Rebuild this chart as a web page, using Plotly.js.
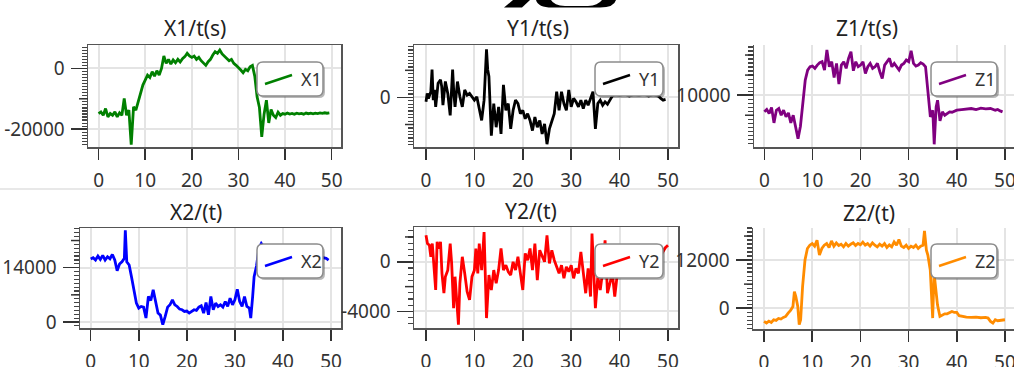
<!DOCTYPE html>
<html><head><meta charset="utf-8">
<script src="https://cdn.plot.ly/plotly-3.0.1.min.js"></script>
<style>html,body{margin:0;padding:0;background:#fff}#chart{width:1014px;height:367px}</style>
</head><body><div id="chart"></div>
<script>
// ---------------- data ----------------
const xTicks = [0, 10, 20, 30, 40, 50];

const tX1 = [0,0.5,1,1.5,2,2.5,3,3.5,4,4.5,5,5.5,6,6.5,7,7.5,8,8.5,9,9.5,10,10.5,11,11.5,12,12.5,13,13.5,14,14.5,15,15.5,16,16.5,17,17.5,18,18.5,19,19.5,20,20.5,21,21.5,22,22.5,23,23.5,24,24.5,25,25.5,26,26.5,27,27.5,28,28.5,29,29.5,30,30.5,31,31.5,32,32.5,33,33.5,34,34.5,35,35.5,36,36.5,37,37.5,38,38.5,39,39.5,40,40.5,41,41.5,42,42.5,43,43.5,44,44.5,45,45.5,46,46.5,47,47.5,48,48.5,49,49.5];
const X1 = [-14850,-14300,-15400,-13200,-15950,-14850,-15400,-14300,-15950,-14600,-15400,-9900,-15400,-13750,-25100,-12650,-13750,-11000,-7700,-5500,-3850,-2200,-2970,-1100,-2530,-770,-2200,0,4070,1650,2970,1430,2750,1870,2970,2090,3190,3850,4950,4070,3630,4070,2970,3630,2530,1870,990,2200,2970,4400,5500,4950,6050,4730,4070,3300,2530,2970,1650,990,330,-550,-1430,-330,-770,550,990,-2530,-9350,-12870,-22550,-15070,-10450,-17930,-13530,-15400,-16170,-14410,-15400,-14850,-15070,-14700,-15000,-14800,-15100,-14750,-14950,-14800,-15050,-14700,-14900,-14750,-14950,-14700,-14850,-14650,-14800,-14600,-14750,-14630];

const tY1 = [0,0.25,0.5,0.75,1,1.25,1.5,1.75,2,2.5,3,3.25,3.5,4,4.5,5,5.5,5.75,6,6.5,7,7.5,8,8.5,9,9.5,10,10.5,11,11.5,12,12.5,12.75,13,13.5,14,14.5,15,15.5,16,16.5,17,17.5,18,18.5,19,19.5,20,20.5,21,21.5,22,22.5,23,23.5,24,24.5,25,25.5,26,26.5,27,27.5,28,28.5,29,29.5,30,30.5,31,31.5,32,32.5,33,33.5,34,34.5,35,35.5,36,36.5,37,37.5,38,38.5,39,40,41,42,43,44,45,46,47,48,48.5,49,49.5];
const Y1 = [-325,300,-75,175,425,2050,-200,550,-700,1050,1300,800,-575,1175,300,-1325,2050,300,-700,1175,50,-700,550,175,300,50,-200,50,-950,-1700,-200,3550,2050,1550,-2825,-450,-2200,-700,-2700,925,-950,-450,-2325,-950,-200,-450,-1200,-950,-1575,-1200,-1700,-2450,-1450,-2200,-1700,-2700,-1950,-3450,-2325,-1700,-1200,425,-950,425,-450,-950,550,-700,-75,-325,-700,-200,-825,-200,-575,-75,425,-2325,-450,-200,-575,-325,-500,-200,100,200,150,250,100,200,150,250,100,200,100,-75,-200,-150];

const tZ1 = [0,0.5,1,1.5,2,2.5,3,3.5,4,4.5,5,5.5,6,6.5,7,7.5,8,8.5,9,9.5,10,10.5,11,11.5,12,12.5,13,13.5,14,14.5,15,15.5,16,16.5,17,17.5,18,18.5,19,19.5,20,20.5,21,21.5,22,22.5,23,23.5,24,24.5,25,25.5,26,26.5,27,27.5,28,28.5,29,29.5,30,30.5,31,31.5,32,32.5,33,33.5,34,34.5,35,35.3,35.7,36,36.5,37,37.5,38,38.5,39,40,41,42,43,44,45,46,47,48,48.5,49,49.5];
const Z1 = [5835,6420,5420,6920,3090,6250,6670,5000,6250,4590,5580,3090,5000,2090,-830,2250,8750,13750,16250,17080,17250,16670,17500,18080,18330,16250,21250,17080,18330,14420,17920,12750,17500,18330,16670,19170,20830,16080,18330,17080,17500,18330,15420,17080,17920,16670,17080,17920,15830,14170,17500,18330,19170,17080,17920,17080,16250,17500,17920,18750,18330,21080,17920,17250,17500,18080,17750,17080,11250,4580,6250,-2250,7080,8750,3580,5830,5000,5420,5830,5750,6250,6420,6580,6670,6420,6750,6580,6670,6250,6420,6080,5830];

const tX2 = [0,0.5,1,1.5,2,2.5,3,3.5,4,4.5,5,5.5,6,6.5,7,7.2,7.5,8,8.5,9,9.5,10,10.5,11,11.5,12,12.5,13,13.5,14,14.5,15,15.5,16,16.5,17,17.5,18,18.5,19,19.5,20,20.5,21,21.5,22,22.5,23,23.5,24,24.5,25,25.5,26,26.5,27,27.5,28,28.5,29,29.5,30,30.5,31,31.5,32,32.5,33,33.3,33.7,34,34.5,35,35.5,36,37,38,39,40,41,42,43,44,45,46,47,48,48.5,49,49.5];
const X2 = [16230,16570,15970,16990,16140,17170,15970,16820,16310,17420,15970,13240,14950,15540,16400,23660,15540,14690,11530,8280,4870,3590,4010,3840,1020,6580,5550,8280,4870,2300,1790,-680,1450,3840,4440,5720,4440,4010,3330,3160,2730,2820,2300,2650,3160,2990,3840,4180,2300,5040,1880,6580,3160,4870,4010,4440,3840,5290,4010,6150,4440,5720,8450,5290,4010,6580,4010,3590,1020,6580,11700,14430,18960,20240,19390,18960,18530,18700,18100,18360,17850,17680,18020,17510,17250,16990,16820,16650,16400,15970];

const tY2 = [0,0.3,0.7,1,1.3,1.7,2,2.3,2.7,3,3.3,3.7,4,4.5,5,5.3,5.7,6,6.3,6.7,7,7.5,8,8.5,9,9.5,10,10.3,10.7,11,11.5,12,12.5,13,13.5,14,14.5,15,15.5,16,16.5,17,17.5,18,18.5,19,19.5,20,20.5,21,21.5,22,22.5,23,23.5,24,24.5,25,25.5,26,26.5,27,27.5,28,28.5,29,29.5,30,30.5,31,31.5,32,32.5,33,33.5,34,34.3,34.7,35,35.5,36,36.5,37,37.5,38,38.5,39,39.5,40,41,42,43,44,45,46,47,48,48.5,49,49.5,50];
const Y2 = [2130,1470,1330,400,1470,-930,-2270,1600,1070,1600,-930,-2530,-1200,-670,1470,-130,-3730,-1200,-2800,-5070,-1730,400,-930,-2400,-3070,-1200,-670,1070,-930,1470,-670,2400,-4530,-1070,-2270,-670,-1730,-670,1070,-670,-270,-800,-1070,0,-670,400,-930,-2270,670,130,1070,-670,1470,-1470,930,530,0,2130,-130,930,130,-400,-930,-270,-1330,-400,-800,-270,-1330,-530,-930,800,-670,-2530,-530,-2800,2270,-1470,-3730,-1200,-2270,-800,1730,-2530,-1730,-930,-2800,-1070,-600,300,-400,500,-200,700,0,600,200,530,930,1150,1330];

const tZ2 = [0,0.5,1,1.5,2,2.5,3,3.5,4,4.5,5,5.5,6,6.3,6.6,7,7.3,7.6,8,8.5,9,9.5,10,10.5,11,11.5,12,12.5,13,13.5,14,14.5,15,15.5,16,16.5,17,17.5,18,18.5,19,19.5,20,20.5,21,21.5,22,22.5,23,23.5,24,24.5,25,25.5,26,26.5,27,27.5,28,28.5,29,29.5,30,30.5,31,31.5,32,32.5,33,33.3,33.7,34,34.5,35,35.3,35.7,36,36.5,37,37.5,38,38.5,39,39.5,40,40.5,41,42,43,44,45,46,46.5,47,47.5,48,48.5,49,49.5,50];
const Z2 = [-3310,-3720,-3230,-3560,-2900,-3060,-2570,-2730,-2320,-2070,-1240,-580,410,4140,2900,410,-4140,-2900,5380,12000,14900,15720,16140,15480,16970,13240,14900,15720,16140,15150,16800,15480,16300,15640,15970,15310,16140,15480,15970,16300,15640,16140,15810,16470,15720,16140,15480,16300,15720,15310,15970,15480,16140,15150,15810,15310,16550,15720,17130,15480,15150,15720,14900,15480,15150,15720,14900,15480,15720,19280,14480,13240,9520,-2480,8690,4550,830,-2070,-1660,-1410,-1410,-1080,-830,-1080,-1080,-1900,-2070,-2230,-2320,-2230,-2400,-2320,-2480,-3310,-3720,-2900,-3140,-3060,-2900,-2900];

const seriesNames = ['X1','Y1','Z1','X2','Y2','Z2'];
const titles = ['X1/t(s)','Y1/t(s)','Z1/t(s)','X2/(t)','Y2/(t)','Z2/(t)'];
const colors = ['#008000','#000000','#800080','#0000ff','#ff0000','#ff8c00'];
const yLabelTicks = [[-20000,0],[0],[10000],[0,14000],[-4000,0],[0,12000]];
const yMidTicks = [[-10000],[-2000,2000],[5000,15000,20000],[7000,21000],[-2000,2000],[6000,18000]];

// ---------------- layout (pixel geometry) ----------------
const W = 1014, H = 367;
const X = v => v / W, Y = v => 1 - v / H;
const FONT = 'Noto Sans, Open Sans, sans-serif';

const panels = [
  {L:88,  R:341,  T:45,  B:147, xr:[-2.27,52.0],  yr:[-25850,7690], minor:1000, mirror:true,  tx:195, ty:28,  lg:[257,62,323,96]},
  {L:414, R:678,  T:45,  B:147, xr:[-2.48,52.07], yr:[-3660,3870],  minor:250,  mirror:true,  tx:538, ty:28,  lg:[595,62,663,96]},
  {L:754, R:1014, T:45,  B:147, xr:[-2.15,51.88], yr:[-2920,22500], minor:1000, mirror:false, tx:867, ty:28,  lg:[931,62,997,96]},
  {L:80,  R:341,  T:228, B:328, xr:[-2.23,52.08], yr:[-1540,24230], minor:1000, mirror:true,  tx:196, ty:212, lg:[257,244,323,278]},
  {L:414, R:678,  T:227, B:328, xr:[-2.48,52.07], yr:[-5330,2800],  minor:500,  mirror:true,  tx:531, ty:211, lg:[595,244,663,278]},
  {L:753, R:1014, T:228, B:329, xr:[-2.29,51.88], yr:[-5210,20010], minor:1000, mirror:false, tx:869, ty:213, lg:[931,244,997,278]}
];
const dataT = [tX1,tY1,tZ1,tX2,tY2,tZ2];
const dataV = [X1,Y1,Z1,X2,Y2,Z2];

const layout = {
  width: W, height: H, margin:{l:0,r:0,t:0,b:0},
  paper_bgcolor:'#ffffff', plot_bgcolor:'#ffffff',
  showlegend:false, font:{family:FONT, color:'#333'},
  shapes:[], annotations:[]
};
const traces = [];

function rr(L,T,R,B,r){
  const x=v=>X(v).toFixed(5), y=v=>Y(v).toFixed(5);
  return `M${x(L+r)},${y(T)} L${x(R-r)},${y(T)} Q${x(R)},${y(T)} ${x(R)},${y(T+r)} L${x(R)},${y(B-r)} Q${x(R)},${y(B)} ${x(R-r)},${y(B)} L${x(L+r)},${y(B)} Q${x(L)},${y(B)} ${x(L)},${y(B-r)} L${x(L)},${y(T+r)} Q${x(L)},${y(T)} ${x(L+r)},${y(T)} Z`;
}

panels.forEach((p, k) => {
  const i = k + 1, s = i === 1 ? '' : String(i);
  const tickFont = {family:FONT, size:19, color:'#333'};
  layout['xaxis'+s] = {
    domain:[X(p.L), X(p.R)], range:p.xr, anchor:'y'+s,
    tickmode:'array', tickvals:xTicks, ticktext:xTicks.map(String),
    ticks:'outside', ticklen:11, tickwidth:1.5, tickcolor:'#333',
    showline:true, mirror:p.mirror ? true : false, linecolor:'#555', linewidth:1.5,
    showgrid:true, gridcolor:'#e4e4e4', gridwidth:2, zeroline:false,
    tickfont:tickFont, ticklabelstandoff:5, ticklabeloverflow:'allow', fixedrange:true
  };
  layout['yaxis'+s] = {
    domain:[Y(p.B), Y(p.T)], range:p.yr, anchor:'x'+s,
    tickmode:'array', tickvals:yLabelTicks[k], ticktext:yLabelTicks[k].map(String),
    ticks:'outside', ticklen:16, tickwidth:1.5, tickcolor:'#333',
    minor:{tickmode:'linear', tick0:0, dtick:p.minor, ticks:'outside', ticklen:5, tickwidth:1.2, tickcolor:'#444', showgrid:false},
    showline:true, mirror:p.mirror, linecolor:'#555', linewidth:1.5,
    showgrid:true, gridcolor:'#e4e4e4', gridwidth:2, zeroline:false,
    tickfont:tickFont, ticklabelstandoff:2, ticklabeloverflow:'allow', fixedrange:true
  };
  traces.push({
    x:dataT[k], y:dataV[k], xaxis:'x'+s, yaxis:'y'+s, type:'scatter', mode:'lines',
    name:seriesNames[k], line:{color:colors[k], width:2.8}, hoverinfo:'skip'
  });
  // medium (unlabelled) y ticks, placed through the y axis scale
  const fw = p.R - p.L;
  yMidTicks[k].forEach(v => {
    layout.shapes.push({type:'line', xref:'x'+s+' domain', yref:'y'+s, layer:'above',
      x0:-9/fw, x1:0, y0:v, y1:v, line:{color:'#333', width:1.5}});
  });
  // title
  layout.annotations.push({text:titles[k], xref:'paper', yref:'paper', x:X(p.tx), y:Y(p.ty),
    xanchor:'center', yanchor:'middle', showarrow:false, font:{family:FONT, size:21, color:'#222'}});
  // legend box
  const [lL,lT,lR,lB] = p.lg, my = (lT+lB)/2;
  layout.shapes.push({type:'path', xref:'paper', yref:'paper', layer:'above', path:rr(lL+2,lT+2,lR+2,lB+2,6),
    fillcolor:'rgba(0,0,0,0.28)', line:{width:0}});
  layout.shapes.push({type:'path', xref:'paper', yref:'paper', layer:'above', path:rr(lL,lT,lR,lB,6),
    fillcolor:'#ffffff', line:{color:'#8c8c8c', width:1.5}});
  layout.shapes.push({type:'line', xref:'paper', yref:'paper', layer:'above',
    x0:X(lL+8), y0:Y(my+5), x1:X(lL+35), y1:Y(my-4), line:{color:colors[k], width:2.5}});
  layout.annotations.push({text:seriesNames[k], xref:'paper', yref:'paper', x:X(lL+42), y:Y(my),
    xanchor:'left', yanchor:'middle', showarrow:false, font:{family:FONT, size:18, color:'#333'}});
});

// row separator
layout.shapes.push({type:'line', xref:'paper', yref:'paper', layer:'below', x0:0, x1:1, y0:Y(189), y1:Y(189),
  line:{color:'#e8e8e8', width:2}});
// clipped fragment of a large black glyph at the top edge
const P = (a,b) => X(a).toFixed(5)+','+Y(b).toFixed(5);
layout.shapes.push({type:'path', xref:'paper', yref:'paper', layer:'above',
  path:`M${P(513,0)} L${P(530,0)} L${P(522,7.5)} L${P(504,7.5)} Z`, fillcolor:'#000', line:{width:0}});
layout.shapes.push({type:'path', xref:'paper', yref:'paper', layer:'above', fillrule:'evenodd',
  path:`M${P(536,0)} L${P(616,0)} Q${P(614,7.5)} ${P(600,7.5)} L${P(552,7.5)} Q${P(538,7.5)} ${P(536,0)} Z M${P(551,0)} L${P(602,0)} Q${P(598,5.5)} ${P(588,6)} L${P(565,6)} Q${P(554,5.5)} ${P(551,0)} Z`,
  fillcolor:'#000', line:{width:0}});

Plotly.newPlot('chart', traces, layout, {displayModeBar:false, staticPlot:true});
</script></body></html>
